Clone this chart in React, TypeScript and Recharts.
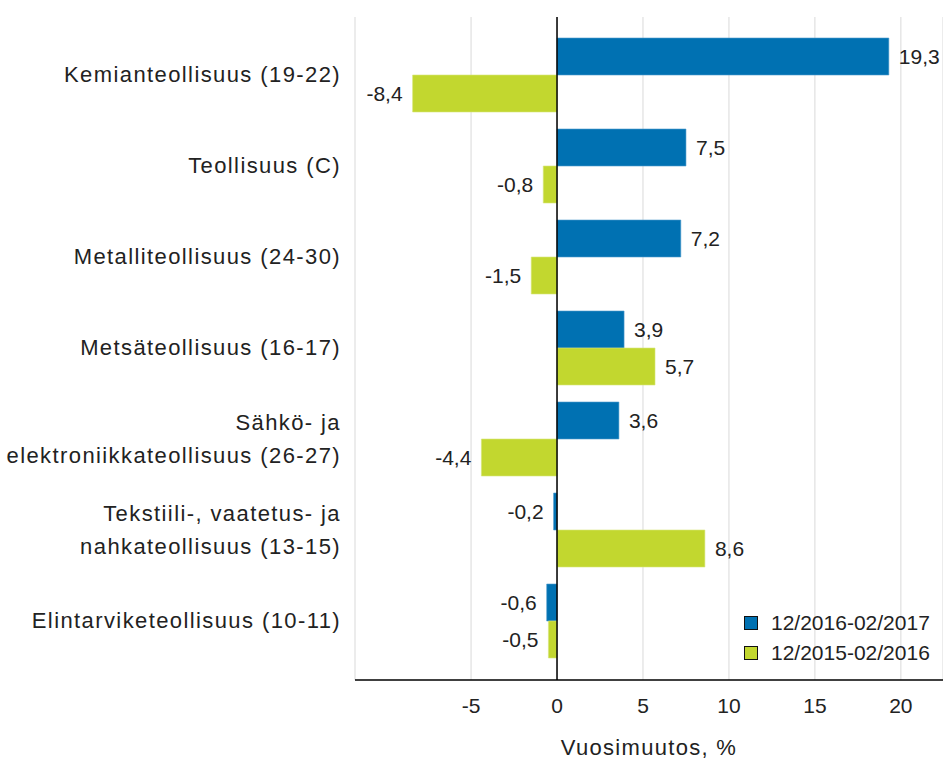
import {
  BarChart,
  Bar,
  XAxis,
  YAxis,
  CartesianGrid,
  ReferenceLine,
  LabelList,
  Legend,
  Label,
} from "recharts";

const categories = [
  "Kemianteollisuus (19-22)",
  "Teollisuus (C)",
  "Metalliteollisuus (24-30)",
  "Metsäteollisuus (16-17)",
  "Sähkö- ja\nelektroniikkateollisuus (26-27)",
  "Tekstiili-, vaatetus- ja\nnahkateollisuus (13-15)",
  "Elintarviketeollisuus (10-11)",
];
const period2017 = [19.3, 7.5, 7.2, 3.9, 3.6, -0.2, -0.6];
const period2016 = [-8.4, -0.8, -1.5, 5.7, -4.4, 8.6, -0.5];
const xTicks = [-5, 0, 5, 10, 15, 20];
const seriesNames = ["12/2016-02/2017", "12/2015-02/2016"];

const BLUE = "#0071b2";
const GREEN = "#c2d72f";
const TEXT = "#222";
const FONT = "'Liberation Sans', Arial, sans-serif";

const data = categories.map((name, i) => ({
  name,
  a: period2017[i],
  b: period2016[i],
}));

const fmt = (v: number) => v.toFixed(1).replace(".", ",");

const CategoryTick = (props: any) => {
  const { x, y, payload } = props;
  const lines = String(payload.value).split("\n");
  const lh = 33;
  const start = (-(lines.length - 1) * lh) / 2;
  return (
    <text
      x={x}
      y={y}
      textAnchor="end"
      fill={TEXT}
      fontSize={22}
      fontFamily={FONT}
      style={{ letterSpacing: 1.4 }}
    >
      {lines.map((line, i) => (
        <tspan key={i} x={x} y={y + start + i * lh} dy="0.35em">
          {line}
        </tspan>
      ))}
    </text>
  );
};

const ValueLabel = (props: any) => {
  const { x, y, width, height, value } = props;
  const left = Math.min(x, x + width);
  const right = Math.max(x, x + width);
  const neg = value < 0;
  return (
    <text
      x={neg ? left - 10 : right + 10}
      y={y + height / 2}
      dy="0.35em"
      textAnchor={neg ? "end" : "start"}
      fill={TEXT}
      fontSize={21}
      fontFamily={FONT}
    >
      {fmt(value)}
    </text>
  );
};

const LegendBox = () => (
  <div style={{ fontFamily: FONT, fontSize: 21, color: TEXT, whiteSpace: "nowrap" }}>
    {[BLUE, GREEN].map((c, i) => (
      <div key={i} style={{ display: "flex", alignItems: "center", height: 30 }}>
        <div
          style={{
            width: 12,
            height: 12,
            background: c,
            border: "1px solid #111",
            marginRight: 13,
          }}
        />
        <span>{seriesNames[i]}</span>
      </div>
    ))}
  </div>
);

export default function App() {
  return (
    <div style={{ position: "absolute", left: 0, top: 0, fontFamily: FONT }}>
      <BarChart
        width={943}
        height={760}
        data={data}
        layout="vertical"
        margin={{ top: 17, right: 0, left: 0, bottom: 0 }}
        barGap={0}
      >
        <CartesianGrid horizontal={false} stroke="#d9d9d9" />
        <XAxis
          type="number"
          domain={[-11.75, 22.45]}
          ticks={xTicks}
          allowDataOverflow
          height={80}
          axisLine={{ stroke: "#000", strokeWidth: 1.5 }}
          tickLine={false}
          tickMargin={12}
          tick={{ fill: TEXT, fontSize: 21, fontFamily: FONT }}
        >
          <Label
            value="Vuosimuutos, %"
            position="insideBottom"
            offset={5}
            fill={TEXT}
            fontSize={22}
            fontFamily={FONT}
            style={{ letterSpacing: 1.3 }}
          />
        </XAxis>
        <YAxis
          type="category"
          dataKey="name"
          width={355}
          axisLine={false}
          tickLine={false}
          tickMargin={8}
          padding={{ top: 12, bottom: 14 }}
          tick={<CategoryTick />}
          interval={0}
        />
        <ReferenceLine x={0} stroke="#000" strokeWidth={1.5} />
        <Legend
          layout="vertical"
          align="center"
          verticalAlign="middle"
          content={<LegendBox />}
          wrapperStyle={{ left: 744, top: 608, width: 199, height: 60 }}
        />
        <Bar
          dataKey="a"
          name={seriesNames[0]}
          fill={BLUE}
          stroke="#4f9ccc"
          strokeWidth={0.6}
          barSize={37}
          isAnimationActive={false}
        >
          <LabelList dataKey="a" content={<ValueLabel />} />
        </Bar>
        <Bar
          dataKey="b"
          name={seriesNames[1]}
          fill={GREEN}
          stroke="#d6e67a"
          strokeWidth={0.6}
          barSize={37}
          isAnimationActive={false}
        >
          <LabelList dataKey="b" content={<ValueLabel />} />
        </Bar>
      </BarChart>
    </div>
  );
}
